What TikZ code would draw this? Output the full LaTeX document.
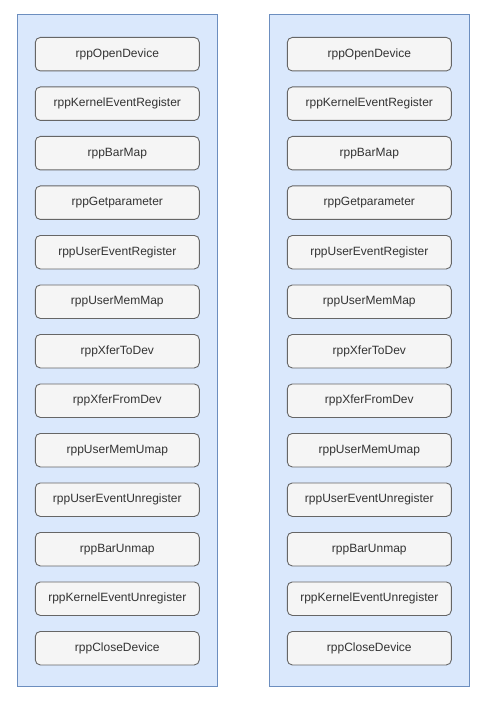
\documentclass[tikz,border=0pt]{standalone}
\usepackage{fontspec}
\setmainfont{Liberation Sans}
\definecolor{panelfill}{HTML}{DAE8FC}
\definecolor{panelline}{HTML}{6C8EBF}
\definecolor{boxfill}{HTML}{F5F5F5}
\definecolor{boxline}{HTML}{666666}
\definecolor{txt}{HTML}{333333}
\begin{document}
\begin{tikzpicture}[x=1pt,y=-1pt,
  panel/.style={draw=panelline,fill=panelfill,line width=0.9pt},
  fnbox/.style={draw=boxline,fill=boxfill,rounded corners=5pt,line width=0.9pt,minimum width=164pt,minimum height=33.5pt,inner sep=0pt,font=\fontsize{12pt}{14pt}\selectfont,text=txt}]
\useasboundingbox (0,0) rectangle (489,703);
\node[panel,minimum width=200pt,minimum height=672pt,inner sep=0pt] (pl) at (117.2,350.5) {};
\node[panel,minimum width=200pt,minimum height=672pt,inner sep=0pt] (pr) at (369.2,350.5) {};
\foreach \n [count=\i from 0] in {rppOpenDevice,rppKernelEventRegister,rppBarMap,rppGetparameter,rppUserEventRegister,rppUserMemMap,rppXferToDev,rppXferFromDev,rppUserMemUmap,rppUserEventUnregister,rppBarUnmap,rppKernelEventUnregister,rppCloseDevice}{
  \node[fnbox] (l\i) at (117.3,{54.2+49.5*\i}) {\n};
  \node[fnbox] (r\i) at (369.3,{54.2+49.5*\i}) {\n};
}
\end{tikzpicture}
\end{document}
